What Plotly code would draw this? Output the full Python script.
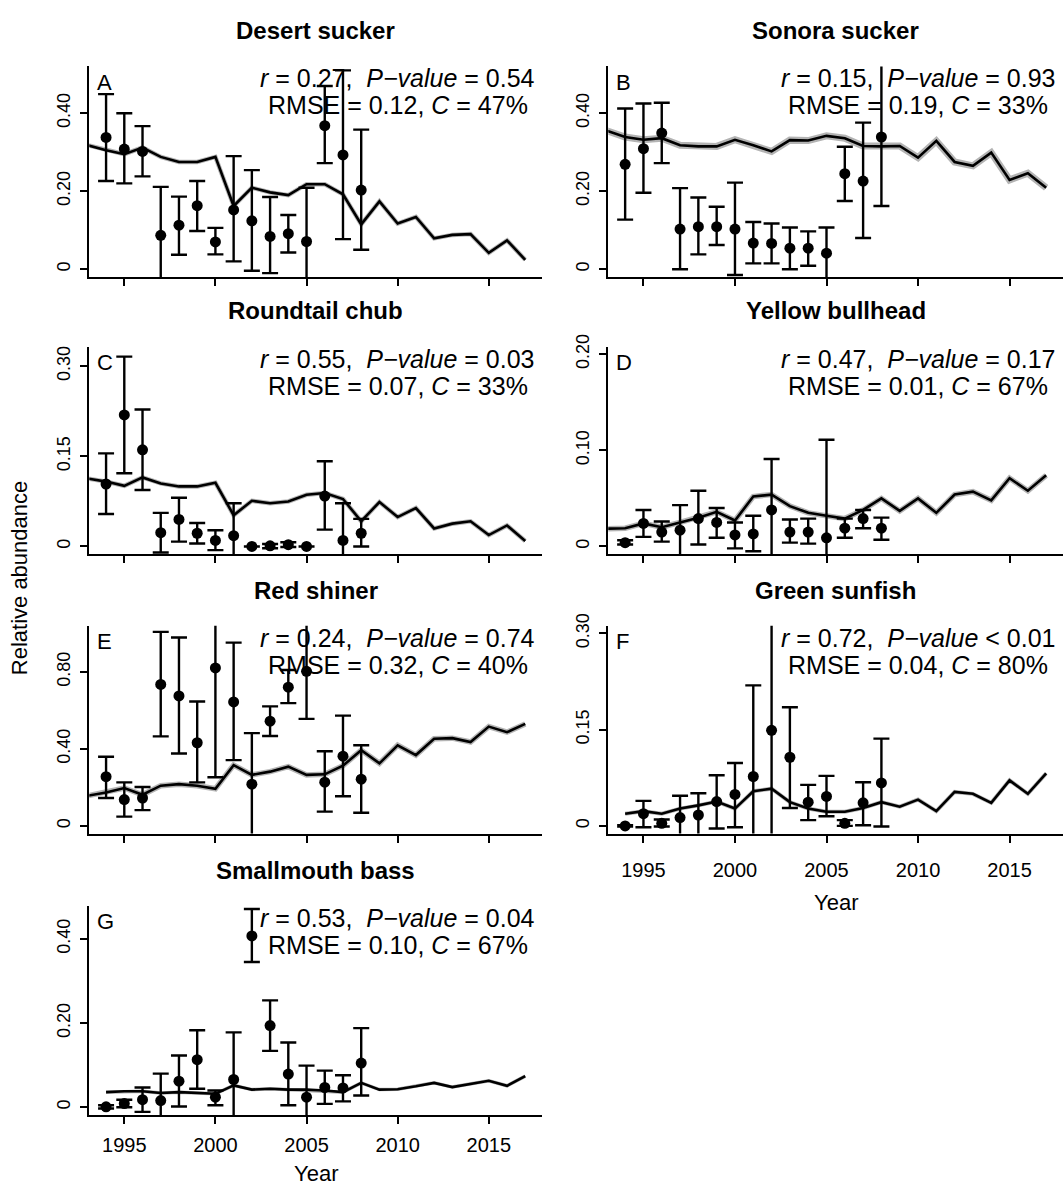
import plotly.graph_objects as go

W, H = 1063, 1187
FONT = "Liberation Sans, Arial, Helvetica, sans-serif"

# ---------------- data ----------------
obs_years = list(range(1994, 2009))
model_years_93 = list(range(1993, 2018))
model_years_94 = list(range(1994, 2018))

# A  Desert sucker
a_obs = [0.338, 0.308, 0.302, 0.087, 0.113, 0.163, 0.070, 0.152, 0.124, 0.084, 0.091, 0.071, 0.368, 0.293, 0.203]
a_lo = [0.226, 0.220, 0.238, -0.05, 0.037, 0.098, 0.038, 0.020, -0.004, -0.010, 0.043, -0.05, 0.272, 0.077, 0.050]
a_hi = [0.449, 0.400, 0.367, 0.211, 0.186, 0.226, 0.106, 0.290, 0.254, 0.185, 0.139, 0.209, 0.470, 0.510, 0.358]
a_model = [0.318, 0.305, 0.295, 0.312, 0.288, 0.275, 0.275, 0.288, 0.162, 0.209, 0.197, 0.190, 0.218,
           0.218, 0.192, 0.115, 0.174, 0.117, 0.134, 0.079, 0.088, 0.090, 0.042, 0.074, 0.024]

# B  Sonora sucker
b_obs = [0.269, 0.309, 0.349, 0.103, 0.109, 0.109, 0.103, 0.067, 0.066, 0.054, 0.054, 0.041, 0.245, 0.226, 0.339]
b_lo = [0.127, 0.196, 0.272, 0.000, 0.038, 0.062, -0.015, 0.015, 0.015, 0.000, 0.009, -0.05, 0.175, 0.080, 0.162]
b_hi = [0.412, 0.425, 0.427, 0.208, 0.184, 0.160, 0.222, 0.121, 0.117, 0.107, 0.097, 0.107, 0.314, 0.376, 0.600]
b_model = [0.355, 0.339, 0.332, 0.336, 0.318, 0.315, 0.315, 0.332, 0.318, 0.302, 0.331, 0.330, 0.342,
           0.336, 0.316, 0.315, 0.316, 0.286, 0.329, 0.275, 0.265, 0.299, 0.229, 0.246, 0.209]

# C  Roundtail chub
c_obs = [0.104, 0.219, 0.161, 0.023, 0.045, 0.022, 0.010, 0.018, 0.000, 0.001, 0.003, 0.000, 0.084, 0.010, 0.022]
c_lo = [0.054, 0.122, 0.094, -0.010, 0.008, 0.005, -0.006, -0.05, 0.000, -0.003, -0.001, 0.000, 0.028, -0.05, 0.000]
c_hi = [0.155, 0.316, 0.228, 0.056, 0.081, 0.039, 0.027, 0.072, 0.000, 0.004, 0.007, 0.000, 0.142, 0.072, 0.046]
c_model = [0.113, 0.108, 0.101, 0.115, 0.105, 0.100, 0.100, 0.106, 0.052, 0.076, 0.072, 0.075, 0.086,
           0.089, 0.079, 0.042, 0.074, 0.049, 0.064, 0.030, 0.038, 0.042, 0.019, 0.035, 0.009]

# D  Yellow bullhead
d_obs = [0.004, 0.024, 0.015, 0.017, 0.029, 0.025, 0.012, 0.013, 0.038, 0.015, 0.015, 0.009, 0.019, 0.029, 0.019]
d_lo = [0.002, 0.010, 0.005, -0.02, 0.002, 0.009, -0.002, -0.005, -0.03, 0.004, 0.003, -0.03, 0.009, 0.019, 0.007]
d_hi = [0.0065, 0.038, 0.026, 0.043, 0.058, 0.040, 0.025, 0.032, 0.091, 0.028, 0.029, 0.111, 0.029, 0.038, 0.030]
d_model = [0.0185, 0.019, 0.024, 0.020, 0.025, 0.030, 0.036, 0.027, 0.052, 0.054, 0.042, 0.035, 0.032,
           0.029, 0.038, 0.050, 0.037, 0.050, 0.035, 0.054, 0.057, 0.048, 0.071, 0.058, 0.074]

# E  Red shiner
e_obs = [0.256, 0.137, 0.145, 0.735, 0.675, 0.432, 0.821, 0.644, 0.217, 0.544, 0.721, 0.803, 0.227, 0.362, 0.243]
e_lo = [0.145, 0.048, 0.082, 0.465, 0.376, 0.226, 0.253, 0.342, -0.10, 0.467, 0.638, 0.556, 0.074, 0.154, 0.068]
e_hi = [0.359, 0.226, 0.202, 1.008, 0.979, 0.646, 1.100, 0.952, 0.482, 0.621, 0.810, 1.100, 0.388, 0.573, 0.419]
e_model = [0.157, 0.174, 0.197, 0.162, 0.209, 0.217, 0.209, 0.193, 0.316, 0.265, 0.282, 0.308, 0.265,
           0.268, 0.313, 0.393, 0.325, 0.419, 0.368, 0.453, 0.456, 0.436, 0.516, 0.487, 0.530]

# F  Green sunfish
f_obs = [0.000, 0.019, 0.004, 0.013, 0.017, 0.038, 0.049, 0.077, 0.149, 0.107, 0.037, 0.046, 0.004, 0.036, 0.067]
f_lo = [-0.001, -0.002, -0.001, -0.02, -0.02, -0.004, -0.002, -0.05, -0.05, 0.028, 0.009, 0.015, 0.000, 0.001, -0.001]
f_hi = [0.001, 0.039, 0.010, 0.047, 0.051, 0.079, 0.098, 0.219, 0.400, 0.185, 0.064, 0.078, 0.009, 0.068, 0.136]
f_model = [0.019, 0.023, 0.019, 0.027, 0.032, 0.038, 0.027, 0.054, 0.058, 0.037, 0.027, 0.022,
           0.022, 0.028, 0.037, 0.030, 0.041, 0.023, 0.053, 0.050, 0.036, 0.071, 0.050, 0.082]

# G  Smallmouth bass
g_obs = [0.001, 0.009, 0.018, 0.016, 0.062, 0.113, 0.024, 0.066, 0.407, 0.194, 0.079, 0.024, 0.047, 0.046, 0.105]
g_lo = [-0.003, 0.000, -0.011, -0.03, 0.002, 0.044, 0.005, -0.03, 0.345, 0.134, 0.005, -0.03, 0.008, 0.014, 0.028]
g_hi = [0.005, 0.018, 0.047, 0.080, 0.123, 0.183, 0.040, 0.178, 0.471, 0.254, 0.154, 0.099, 0.087, 0.076, 0.188]
g_model = [0.036, 0.038, 0.038, 0.034, 0.036, 0.034, 0.032, 0.052, 0.042, 0.044, 0.042, 0.042,
           0.040, 0.036, 0.058, 0.042, 0.043, 0.050, 0.058, 0.048, 0.055, 0.063, 0.051, 0.074]

titles = ["Desert sucker", "Sonora sucker", "Roundtail chub", "Yellow bullhead",
          "Red shiner", "Green sunfish", "Smallmouth bass"]
letters = ["A", "B", "C", "D", "E", "F", "G"]
stat1 = ["<i>r</i> = 0.27,\u00a0 <i>P\u2212value</i> = 0.54",
         "<i>r</i> = 0.15,\u00a0 <i>P\u2212value</i> = 0.93",
         "<i>r</i> = 0.55,\u00a0 <i>P\u2212value</i> = 0.03",
         "<i>r</i> = 0.47,\u00a0 <i>P\u2212value</i> = 0.17",
         "<i>r</i> = 0.24,\u00a0 <i>P\u2212value</i> = 0.74",
         "<i>r</i> = 0.72,\u00a0 <i>P\u2212value</i> &lt; 0.01",
         "<i>r</i> = 0.53,\u00a0 <i>P\u2212value</i> = 0.04"]
stat2 = ["RMSE = 0.12, <i>C</i> = 47%", "RMSE = 0.19, <i>C</i> = 33%",
         "RMSE = 0.07, <i>C</i> = 33%", "RMSE = 0.01, <i>C</i> = 67%",
         "RMSE = 0.32, <i>C</i> = 40%", "RMSE = 0.04, <i>C</i> = 80%",
         "RMSE = 0.10, <i>C</i> = 67%"]
yticks = [[0, 0.2, 0.4], [0, 0.2, 0.4], [0, 0.15, 0.30], [0, 0.10, 0.20],
          [0, 0.40, 0.80], [0, 0.15, 0.30], [0, 0.20, 0.40]]
yticktext = [["0", "0.20", "0.40"], ["0", "0.20", "0.40"], ["0", "0.15", "0.30"],
             ["0", "0.10", "0.20"], ["0", "0.40", "0.80"], ["0", "0.15", "0.30"],
             ["0", "0.20", "0.40"]]
yranges = [[-0.02, 0.52], [-0.02, 0.52], [-0.0128, 0.3328], [-0.008, 0.208],
           [-0.04, 1.04], [-0.012, 0.312], [-0.0184, 0.4784]]
xticks = [1995, 2000, 2005, 2010, 2015]

panels = [
    (a_obs, a_lo, a_hi, model_years_93, a_model, 4.5),
    (b_obs, b_lo, b_hi, model_years_93, b_model, 7.0),
    (c_obs, c_lo, c_hi, model_years_93, c_model, 4.5),
    (d_obs, d_lo, d_hi, model_years_93, d_model, 5.5),
    (e_obs, e_lo, e_hi, model_years_93, e_model, 5.5),
    (f_obs, f_lo, f_hi, model_years_94, f_model, 4.0),
    (g_obs, g_lo, g_hi, model_years_94, g_model, 3.5),
]

# ---------------- layout geometry (pixels) ----------------
left_x = (89.3, 542.0)
right_x = (608.3, 1063.0)
rows = [(55, 267.7), (338, 547.7), (620, 830), (903, 1114.3)]
pos = [(0, 0), (0, 1), (1, 0), (1, 1), (2, 0), (2, 1), (3, 0)]

fig = go.Figure()
layout = dict(
    width=W, height=H, margin=dict(l=0, r=0, t=0, b=0),
    paper_bgcolor="white", plot_bgcolor="white", showlegend=False,
    font=dict(family=FONT, color="black"),
)
annotations = []

for i, (obs, lo, hi, myears, model, bandw) in enumerate(panels):
    n = i + 1
    xa = "x" if n == 1 else f"x{n}"
    ya = "y" if n == 1 else f"y{n}"
    r, c = pos[i]
    xd = left_x if c == 0 else right_x
    top, bot = rows[r]
    xdom = [xd[0] / W, min(xd[1] / W, 1.0)]
    ydom = [1 - bot / H, 1 - top / H]
    show_xlabels = n in (6, 7)
    standoff = 10 if n == 6 else 4
    layout["xaxis" if n == 1 else f"xaxis{n}"] = dict(
        domain=xdom, anchor=ya, range=[1993.08, 2017.92],
        showgrid=False, zeroline=False, showline=True, linecolor="black", linewidth=2,
        ticks="outside", ticklen=7, tickwidth=2, tickcolor="black",
        tickvals=xticks, showticklabels=show_xlabels,
        tickfont=dict(size=20, family=FONT, color="black"),
        ticklabelstandoff=standoff,
    )
    layout["yaxis" if n == 1 else f"yaxis{n}"] = dict(
        domain=ydom, anchor=xa, range=yranges[i],
        showgrid=False, zeroline=False, showline=True, linecolor="black", linewidth=2,
        ticks="outside", ticklen=7, tickwidth=2, tickcolor="black",
        tickvals=yticks[i], ticktext=yticktext[i], tickangle=-90,
        tickfont=dict(size=18, family=FONT, color="black"),
        ticklabelstandoff=3,
    )
    # model band + line
    fig.add_trace(go.Scatter(x=myears, y=model, mode="lines", xaxis=xa, yaxis=ya,
                             line=dict(color="#b4b4b4", width=bandw), hoverinfo="skip"))
    fig.add_trace(go.Scatter(x=myears, y=model, mode="lines", xaxis=xa, yaxis=ya,
                             line=dict(color="black", width=2.6)))
    # observations with error bars
    up = [h - o for h, o in zip(hi, obs)]
    dn = [o - l for o, l in zip(obs, lo)]
    fig.add_trace(go.Scatter(
        x=obs_years, y=obs, mode="markers", xaxis=xa, yaxis=ya,
        marker=dict(color="black", size=11),
        error_y=dict(type="data", symmetric=False, array=up, arrayminus=dn,
                     color="black", thickness=2.4, width=8),
    ))
    # title
    annotations.append(dict(
        text=f"<b>{titles[i]}</b>", xref="paper", yref="paper",
        x=(xd[0] + min(xd[1], W)) / 2 / W, y=1 - (top - 36) / H,
        xanchor="center", yanchor="middle", showarrow=False,
        font=dict(size=24, family=FONT, color="black"),
    ))
    # panel letter
    annotations.append(dict(
        text=letters[i], xref=f"{xa} domain", yref=f"{ya} domain", x=0, y=1,
        xshift=6, yshift=-16, xanchor="left", yanchor="middle", showarrow=False,
        font=dict(size=22, family=FONT, color="black"),
    ))
    # stats text
    for k, (txt, shift) in enumerate(((stat1[i], -12), (stat2[i], -39))):
        annotations.append(dict(
            text=txt, xref=xa, yref=f"{ya} domain", x=2010, y=1, yshift=shift,
            xanchor="center", yanchor="middle", showarrow=False,
            font=dict(size=25, family=FONT, color="black"),
        ))

# axis titles
annotations.append(dict(text="Relative abundance", xref="paper", yref="paper",
                        x=19 / W, y=1 - 572 / H, textangle=-90, showarrow=False,
                        xanchor="center", yanchor="middle",
                        font=dict(size=22, family=FONT, color="black")))
annotations.append(dict(text="Year", xref="x6 domain", yref="y6 domain", x=0.5, y=0,
                        yshift=-69, showarrow=False, xanchor="center", yanchor="middle",
                        font=dict(size=22, family=FONT, color="black")))
annotations.append(dict(text="Year", xref="x7 domain", yref="y7 domain", x=0.5, y=0,
                        yshift=-58, showarrow=False, xanchor="center", yanchor="middle",
                        font=dict(size=22, family=FONT, color="black")))

layout["annotations"] = annotations
fig.update_layout(**layout)
fig.write_html("out.html")
